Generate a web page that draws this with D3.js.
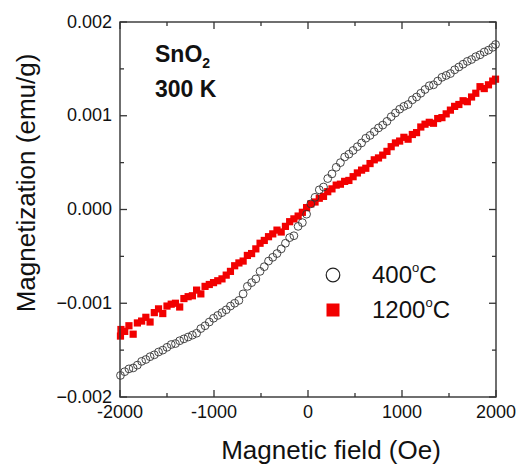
<!DOCTYPE html>
<html>
<head>
<meta charset="utf-8">
<script src="https://cdn.jsdelivr.net/npm/d3@7"></script>
<style>
  body { margin: 0; background: #fff; }
  text { font-family: "Liberation Sans", Arial, sans-serif; fill: #111; }
</style>
</head>
<body>
<div id="chart"></div>
<script>
// field (Oe), magnetization (1e-3 emu/g)
var field400 = [-1995,-1950,-1905,-1860,-1815,-1770,-1725,-1680,-1635,-1590,-1545,-1500,-1455,-1410,-1365,-1320,-1275,-1230,-1185,-1140,-1095,-1050,-1005,-960,-915,-870,-825,-780,-735,-690,-645,-600,-555,-510,-465,-420,-375,-330,-285,-240,-195,-150,-105,-60,-15,30,75,120,165,210,255,300,345,390,435,480,525,570,615,660,705,750,795,840,885,930,975,1020,1065,1110,1155,1200,1245,1290,1335,1380,1425,1470,1515,1560,1605,1650,1695,1740,1785,1830,1875,1920,1965,1995];
var mag400 = [-1.77,-1.73,-1.70,-1.69,-1.66,-1.62,-1.60,-1.57,-1.55,-1.52,-1.50,-1.47,-1.44,-1.43,-1.40,-1.38,-1.36,-1.34,-1.32,-1.27,-1.24,-1.20,-1.16,-1.13,-1.10,-1.07,-1.03,-1.00,-0.97,-0.90,-0.82,-0.78,-0.74,-0.66,-0.61,-0.55,-0.51,-0.47,-0.42,-0.36,-0.30,-0.28,-0.18,-0.14,-0.05,0.06,0.13,0.21,0.24,0.33,0.38,0.45,0.50,0.56,0.59,0.63,0.67,0.71,0.76,0.79,0.83,0.87,0.90,0.94,0.99,1.03,1.07,1.10,1.12,1.17,1.20,1.24,1.28,1.32,1.33,1.37,1.41,1.43,1.45,1.49,1.52,1.55,1.58,1.60,1.63,1.65,1.68,1.70,1.73,1.76];

var field1200 = [-1995,-1990,-1950,-1905,-1860,-1815,-1770,-1725,-1680,-1635,-1590,-1545,-1500,-1455,-1410,-1365,-1320,-1275,-1230,-1185,-1140,-1095,-1050,-1005,-960,-915,-870,-825,-780,-735,-690,-645,-600,-555,-510,-465,-420,-375,-330,-285,-240,-195,-150,-105,-60,-15,30,75,120,165,210,255,300,345,390,435,480,525,570,615,660,705,750,795,840,885,930,975,1020,1065,1110,1155,1200,1245,1290,1335,1380,1425,1470,1515,1560,1605,1650,1695,1740,1785,1830,1875,1920,1965,1995];
var mag1200 = [-1.35,-1.28,-1.30,-1.24,-1.33,-1.21,-1.19,-1.15,-1.20,-1.10,-1.06,-1.11,-1.03,-1.01,-1.00,-1.04,-0.95,-0.93,-0.92,-0.86,-0.90,-0.82,-0.80,-0.78,-0.76,-0.74,-0.70,-0.66,-0.60,-0.57,-0.55,-0.49,-0.47,-0.42,-0.36,-0.33,-0.29,-0.26,-0.22,-0.24,-0.18,-0.13,-0.10,-0.07,-0.03,0.02,0.06,0.08,0.12,0.14,0.19,0.22,0.26,0.27,0.30,0.31,0.35,0.39,0.42,0.44,0.49,0.53,0.55,0.58,0.62,0.67,0.71,0.73,0.77,0.75,0.80,0.82,0.88,0.91,0.93,0.92,0.97,0.98,1.02,1.06,1.10,1.12,1.16,1.15,1.20,1.24,1.31,1.29,1.33,1.37,1.39];

var xTicks = [-2000, -1000, 0, 1000, 2000];
var yTicks = [-0.002, -0.001, 0, 0.001, 0.002];

var W = 518, H = 464;
var margin = {left: 120, right: 22, top: 22, bottom: 67};

var svg = d3.select("#chart").append("svg")
    .attr("width", W)
    .attr("height", H);

var x = d3.scaleLinear().domain([-2000, 2000]).range([margin.left, W - margin.right]);
var y = d3.scaleLinear().domain([-0.002, 0.002]).range([H - margin.bottom, margin.top]);

var minorX = d3.range(-2000, 2001, 500);
var minorY = d3.range(-4, 5).map(d => d * 0.0005);

// data
var g = svg.append("g");
g.selectAll(".sq")
    .data(field1200.map((f, i) => [f, mag1200[i] / 1000]))
    .enter().append("rect")
    .attr("x", d => x(d[0]) - 3.6)
    .attr("y", d => y(d[1]) - 3.6)
    .attr("width", 7.2)
    .attr("height", 7.2)
    .style("fill", "#f20000");

g.selectAll(".circ")
    .data(field400.map((f, i) => [f, mag400[i] / 1000]))
    .enter().append("circle")
    .attr("cx", d => x(d[0]))
    .attr("cy", d => y(d[1]))
    .attr("r", 3.9)
    .style("fill", "none")
    .style("stroke", "#333")
    .style("stroke-width", 0.9);

// frame
var axisColor = "#333";
svg.append("rect")
    .attr("x", x(-2000)).attr("y", y(0.002))
    .attr("width", x(2000) - x(-2000)).attr("height", y(-0.002) - y(0.002))
    .style("fill", "none").style("stroke", axisColor).style("stroke-width", 1.4);

// ticks, inward on all sides
minorX.forEach(function (v) {
    var len = (v % 1000 === 0) ? 7 : 4;
    [[y(-0.002), -len], [y(0.002), len]].forEach(function (p) {
        svg.append("line")
            .attr("x1", x(v)).attr("x2", x(v))
            .attr("y1", p[0]).attr("y2", p[0] + p[1])
            .style("stroke", axisColor).style("stroke-width", 1.3);
    });
});
minorY.forEach(function (v, i) {
    var len = (i % 2 === 0) ? 7 : 4;
    [[x(-2000), len], [x(2000), -len]].forEach(function (p) {
        svg.append("line")
            .attr("y1", y(v)).attr("y2", y(v))
            .attr("x1", p[0]).attr("x2", p[0] + p[1])
            .style("stroke", axisColor).style("stroke-width", 1.3);
    });
});

// tick labels
svg.selectAll(".xl")
    .data(xTicks)
    .enter().append("text")
    .attr("x", d => x(d))
    .attr("y", y(-0.002) + 21)
    .attr("text-anchor", "middle")
    .style("font-size", "18px")
    .text(d => d);

svg.selectAll(".yl")
    .data(yTicks)
    .enter().append("text")
    .attr("x", x(-2000) - 8)
    .attr("y", d => y(d) + 5.5)
    .attr("text-anchor", "end")
    .style("font-size", "18px")
    .text(d => d3.format(".3f")(d));

// axis titles
svg.append("text")
    .attr("x", 331)
    .attr("y", 459)
    .attr("text-anchor", "middle")
    .style("font-size", "26px")
    .text("Magnetic field (Oe)");

svg.append("text")
    .attr("transform", "translate(35,183) rotate(-90)")
    .attr("text-anchor", "middle")
    .style("font-size", "26px")
    .text("Magnetization (emu/g)");

// annotation
var ann = svg.append("text")
    .attr("x", 155).attr("y", 62)
    .style("font-size", "23px").style("font-weight", "bold");
ann.append("tspan").text("SnO");
ann.append("tspan").attr("dy", 6).style("font-size", "14px").text("2");
svg.append("text")
    .attr("x", 155).attr("y", 97)
    .style("font-size", "23px").style("font-weight", "bold")
    .text("300 K");

// legend
var legend = [
    {label: "400", sym: "circle"},
    {label: "1200", sym: "square"}
];
legend.forEach(function (d, i) {
    var cy = 275 + i * 35;
    if (d.sym === "circle") {
        svg.append("circle").attr("cx", 333).attr("cy", cy).attr("r", 6.8)
            .style("fill", "none").style("stroke", "#222").style("stroke-width", 1.2);
    } else {
        svg.append("rect").attr("x", 326.5).attr("y", cy - 6.5).attr("width", 13).attr("height", 13)
            .style("fill", "#f20000");
    }
    var t = svg.append("text").attr("x", 372).attr("y", cy + 7.5)
        .style("font-size", "24px");
    t.append("tspan").text(d.label);
    t.append("tspan").attr("dy", -11).style("font-size", "13px").text("o");
    t.append("tspan").attr("dy", 11).text("C");
});
</script>
</body>
</html>
